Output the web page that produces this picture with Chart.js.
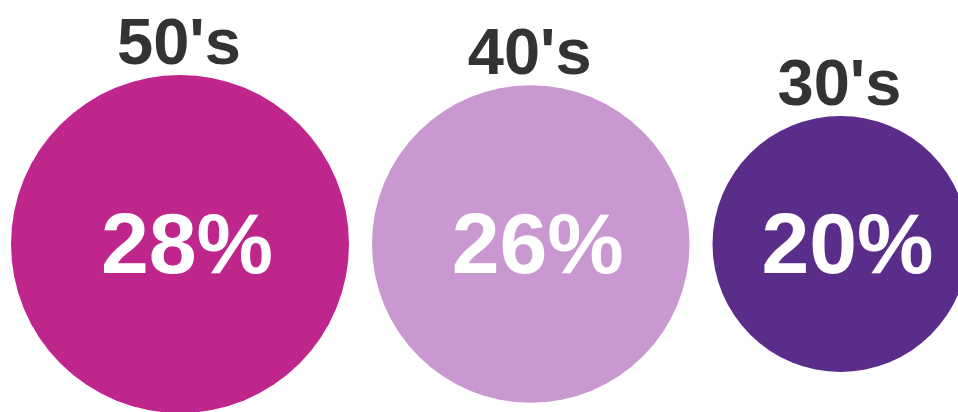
<!DOCTYPE html>
<html>
<head>
<meta charset="utf-8">
<script src="https://cdn.jsdelivr.net/npm/chart.js@4/dist/chart.umd.min.js"></script>
<style>
  html, body { margin: 0; padding: 0; background: #ffffff; }
  #wrap { width: 958px; height: 412px; }
</style>
</head>
<body>
<div id="wrap"><canvas id="c" width="958" height="412"></canvas></div>
<script>
// ---- data ----
const categories = ["50's", "40's", "30's"];
const values = [28, 26, 20];            // percent
const valueLabels = ["28%", "26%", "20%"];
const colors = ["#BF268C", "#C998D0", "#5B2D8A"];

// ---- layout rule: radius grows linearly with value; circles packed left to right ----
const radiusOf = v => 25.5 + 5.125 * v;
const GAP = 23, LEFT = 11;
const points = [];
let cursor = LEFT;
values.forEach((v, i) => {
  const r = radiusOf(v);
  points.push({ x: cursor + r, y: 0, r: r, v: v });
  cursor += 2 * r + GAP;
});

const labelPlugin = {
  id: 'circleLabels',
  afterDatasetsDraw(chart) {
    const ctx = chart.ctx;
    const meta = chart.getDatasetMeta(0);
    ctx.save();
    meta.data.forEach((el, i) => {
      const r = el.options.radius;
      ctx.textAlign = 'center';
      ctx.textBaseline = 'alphabetic';
      // category label above circle
      ctx.fillStyle = '#333333';
      ctx.font = 'bold 65px "Liberation Sans", Arial, sans-serif';
      ctx.fillText(categories[i], el.x - 1, el.y - r - 11);
      // value label in circle
      ctx.fillStyle = '#ffffff';
      ctx.font = 'bold 86px "Liberation Sans", Arial, sans-serif';
      ctx.fillText(valueLabels[i], el.x + 7, el.y + 29);
    });
    ctx.restore();
  }
};

new Chart(document.getElementById('c'), {
  type: 'bubble',
  data: {
    labels: categories,
    datasets: [{
      data: points,
      backgroundColor: colors,
      borderWidth: 0,
      hoverRadius: 0,
      clip: false
    }]
  },
  options: {
    responsive: false,
    animation: false,
    events: [],
    layout: { padding: 0, autoPadding: false },
    plugins: { legend: { display: false }, tooltip: { enabled: false } },
    scales: {
      x: { type: 'linear', min: 0, max: 958, display: false },
      y: { type: 'linear', min: -168, max: 244, display: false }
    }
  },
  plugins: [labelPlugin]
});
</script>
</body>
</html>
